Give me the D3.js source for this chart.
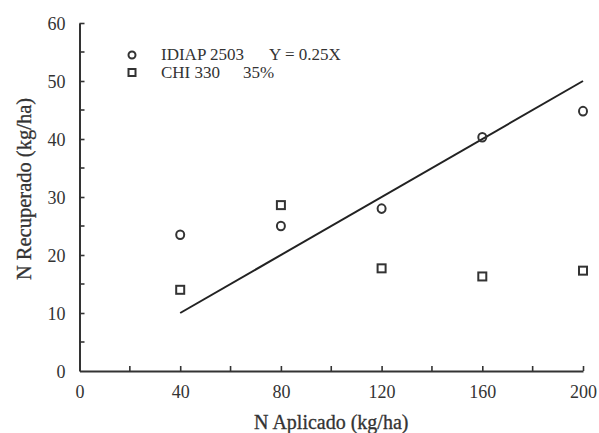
<!DOCTYPE html>
<html>
<head>
<meta charset="utf-8">
<script src="https://cdn.jsdelivr.net/npm/d3@7"></script>
<style>
  html, body { margin: 0; padding: 0; background: #fff; }
  svg { display: block; }
  svg text { font-family: "Liberation Serif", "Times New Roman", Times, serif !important; fill: #333; }
</style>
</head>
<body>
<svg id="chart" width="599" height="433"></svg>
<script>
// ---- data ----
const nApplied = [40, 80, 120, 160, 200];
const idiap2503 = [23.5, 25.0, 28.0, 40.3, 44.8];
const chi330 = [14.0, 28.6, 17.7, 16.3, 17.3];
const fitLineX = [40, 200];          // Y = 0.25X
const fitSlope = 0.25;
const xTickValues = [0, 40, 80, 120, 160, 200];
const xMinorTicks = [20, 60, 100, 140, 180];
const yTickValues = [0, 10, 20, 30, 40, 50, 60];
const yMinorTicks = [5, 15, 25, 35, 45, 55];
const legendLabels = ["IDIAP 2503", "CHI 330"];
const legendNotes = ["Y = 0.25X", "35%"];

// ---- layout ----
const svg = d3.select("#chart");
const x = d3.scaleLinear().domain([0, 200]).range([79.5, 583]);
const y = d3.scaleLinear().domain([0, 60]).range([371, 23]);
const ink = "#333";

// axes
const xAxis = d3.axisBottom(x).tickValues(xTickValues).tickSizeInner(-5).tickSizeOuter(0).tickPadding(14);
const yAxis = d3.axisLeft(y).tickValues(yTickValues).tickSizeInner(-5).tickSizeOuter(0).tickPadding(14);

const gx = svg.append("g").attr("transform", `translate(0,${y(0)})`).call(xAxis);
const gy = svg.append("g").attr("transform", `translate(${x(0)},0)`).call(yAxis);
[gx, gy].forEach(g => {
  g.attr("font-family", null).attr("font-size", null);
  g.select(".domain").attr("stroke", ink).attr("stroke-width", 2);
  g.selectAll(".tick line").attr("stroke", ink).attr("stroke-width", 1.6);
  g.selectAll(".tick text").attr("fill", ink).style("font-size", "18px");
});
gx.selectAll(".tick text").attr("dy", "0.71em");
gy.selectAll(".tick text").attr("dy", "0.35em");
gx.selectAll(".tick").filter(d => d === 0).select("line").remove();
gy.selectAll(".tick").filter(d => d === 0).select("line").remove();

// minor ticks
svg.append("g").selectAll("line").data(xMinorTicks).join("line")
  .attr("x1", d => x(d)).attr("x2", d => x(d))
  .attr("y1", y(0)).attr("y2", y(0) - 5)
  .attr("stroke", ink).attr("stroke-width", 1.6);
svg.append("g").selectAll("line").data(yMinorTicks).join("line")
  .attr("x1", x(0)).attr("x2", x(0) + 5)
  .attr("y1", d => y(d)).attr("y2", d => y(d))
  .attr("stroke", ink).attr("stroke-width", 1.6);

// axis titles
svg.append("text").attr("x", (x(0) + x(200)) / 2).attr("y", 429)
  .attr("text-anchor", "middle").style("font-size", "20px")
  .style("stroke", ink).style("stroke-width", 0.3)
  .text("N Aplicado (kg/ha)");
svg.append("text")
  .attr("transform", `translate(31,${189}) rotate(-90)`)
  .attr("text-anchor", "middle").style("font-size", "20.5px")
  .style("stroke", ink).style("stroke-width", 0.3)
  .text("N Recuperado (kg/ha)");

// fit line
svg.append("path")
  .datum(fitLineX.map(v => [v, fitSlope * v]))
  .attr("d", d3.line().x(d => x(d[0])).y(d => y(d[1])))
  .attr("fill", "none").attr("stroke", "#222").attr("stroke-width", 2);

// series
const pts = nApplied.map((v, i) => ({x: v, a: idiap2503[i], b: chi330[i]}));
svg.append("g").selectAll("rect").data(pts).join("rect")
  .attr("x", d => x(d.x) - 4).attr("y", d => y(d.b) - 4)
  .attr("width", 8).attr("height", 8)
  .attr("fill", "none").attr("stroke", ink).attr("stroke-width", 2);
svg.append("g").selectAll("ellipse").data(pts).join("ellipse")
  .attr("cx", d => x(d.x)).attr("cy", d => y(d.a))
  .attr("rx", 4).attr("ry", 4.3)
  .attr("fill", "none").attr("stroke", ink).attr("stroke-width", 2);

// legend
const lg = svg.append("g");
lg.append("ellipse").attr("cx", 132).attr("cy", 55).attr("rx", 3.5).attr("ry", 3.5)
  .attr("fill", "none").attr("stroke", ink).attr("stroke-width", 2);
lg.append("rect").attr("x", 128.5).attr("y", 69).attr("width", 7).attr("height", 7)
  .attr("fill", "none").attr("stroke", ink).attr("stroke-width", 2);
lg.selectAll("text.lab").data(legendLabels).join("text").attr("class", "lab")
  .attr("x", 161).attr("y", (d, i) => 60 + i * 18)
  .style("font-size", "17px").text(d => d);
lg.selectAll("text.note").data(legendNotes).join("text").attr("class", "note")
  .attr("x", (d, i) => i === 0 ? 269 : 243).attr("y", (d, i) => 60 + i * 18)
  .style("font-size", "17px").text(d => d);
</script>
</body>
</html>
